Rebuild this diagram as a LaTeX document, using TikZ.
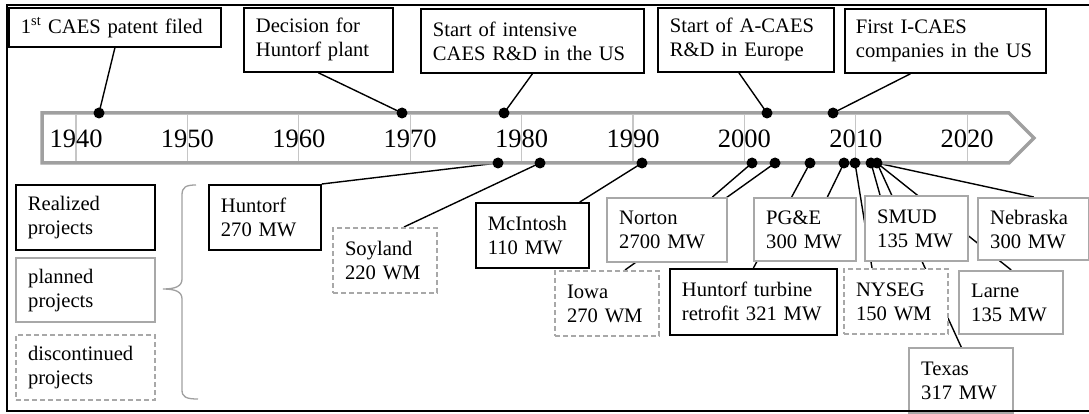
\documentclass[tikz,border=0pt]{standalone}
\usepackage{fontspec}
\setmainfont{Liberation Serif}
\usepackage{tikz}
\usetikzlibrary{calc,backgrounds}
\definecolor{BarGray}{HTML}{A0A0A0}
\definecolor{TickGray}{HTML}{C6C6C6}
\definecolor{BoxGray}{HTML}{A8A8A8}
\newcommand{\boxfont}{\fontsize{20.6}{24}\selectfont}
\newcommand{\yearfont}{\fontsize{26.5}{30}\selectfont}

\begin{document}
\begin{tikzpicture}[x=1pt, y=-1pt,
    % boxes hang from their top left corner
    boxbase/.style={anchor=north west, rectangle, fill=white, font=\boxfont, align=left, inner xsep=12pt, inner ysep=0pt, minimum height=64pt},
    eventbox/.style={boxbase, draw=black, line width=1.8pt},
    realbox/.style={boxbase, draw=black, line width=1.8pt},
    planbox/.style={boxbase, draw=BoxGray, line width=2.4pt},
    stopbox/.style={boxbase, draw=BoxGray, line width=2pt, dash pattern=on 5pt off 3pt},
    evdot/.style={circle, fill=black, inner sep=0pt, minimum size=11pt},
    link/.style={black, line width=1.4pt},
    yearlabel/.style={font=\yearfont, inner sep=0pt}
]
\useasboundingbox (0,0) rectangle (1089,414);

% time bar
\draw[BarGray, line width=3.5pt, fill=white] (42,113) -- (1009,113) -- (1034,138) -- (1009,163) -- (42,163) -- cycle;
\foreach \yr [count=\i from 0] in {1940,1950,...,2020} {
  \draw[TickGray, line width=1.2pt] (76+111.4*\i,115) -- (76+111.4*\i,161);
  \node[yearlabel] (y\yr) at (76+111.4*\i,139) {\yr};
}

% milestones above the bar
\node[eventbox, text width=188pt, minimum height=39pt] (patent) at (8,7) {1\textsuperscript{st} CAES patent filed};
\node[eventbox, text width=125pt] (decision) at (243,7) {Decision for\\Huntorf plant};
\node[eventbox, text width=199pt] (intensive) at (420,8) {Start of intensive\\CAES R\&D in the US};
\node[eventbox, text width=152pt] (acaes) at (657,7) {Start of A-CAES\\R\&D in Europe};
\node[eventbox, text width=179pt, inner xsep=11pt] (icaes) at (844,8) {First I-CAES\\companies in the US};

\node[evdot] (dPatent) at (99,113) {};
\node[evdot] (dDecision) at (402,113) {};
\node[evdot] (dIntensive) at (504,113) {};
\node[evdot] (dACAES) at (767,113) {};
\node[evdot] (dICAES) at (833,113) {};

% legend
\node[realbox, text width=115pt, minimum height=65pt] (realized) at (15,184) {Realized\\projects};
\node[planbox, text width=115pt] (planned) at (15,257) {planned\\projects};
\node[stopbox, text width=115pt, minimum height=65pt] (stopped) at (15,334) {discontinued\\projects};
\draw[BarGray, line width=1.3pt] (196,185) .. controls (186,185) and (182,187) .. (182,195) -- (182,279)
  .. controls (182,286) and (176,289) .. (163,289) .. controls (176,289) and (182,292) .. (182,299)
  -- (182,390) .. controls (182,397) and (186,399) .. (198,399);

% projects below the bar
\node[realbox, text width=88pt, minimum height=65pt] (huntorf) at (208,184) {Huntorf\\270 MW};
\node[stopbox, text width=80pt, minimum height=65pt] (soyland) at (332,227) {Soyland\\220 WM};
\node[realbox, text width=89pt, minimum height=65pt] (mcintosh) at (475,202) {McIntosh\\110 MW};
\node[planbox, text width=96pt] (norton) at (606,197) {Norton\\2700 MW};
\node[stopbox, text width=80pt, minimum height=65pt] (iowa) at (554,270) {Iowa\\270 WM};
\node[realbox, text width=143pt, minimum height=66pt] (retrofit) at (669,268) {Huntorf turbine\\retrofit 321 MW};
\node[planbox, text width=78pt, minimum height=63pt] (pge) at (753,197) {PG\&E\\300 MW};
\node[stopbox, text width=80pt, minimum height=65pt] (nyseg) at (843,268) {NYSEG\\150 WM};
\node[planbox, text width=79pt, minimum height=65pt] (smud) at (864,195) {SMUD\\135 MW};
\node[planbox, text width=87pt, minimum height=62pt] (nebraska) at (977,197) {Nebraska\\300 MW};
\node[planbox, text width=80pt, minimum height=63pt] (larne) at (958,270) {Larne\\135 MW};
\node[planbox, text width=80pt, minimum height=65pt] (texas) at (908,347) {Texas\\317 MW};

\node[evdot] (dHuntorf) at (498,163) {};
\node[evdot] (dSoyland) at (540,163) {};
\node[evdot] (dMcIntosh) at (642,163) {};
\node[evdot] (dNorton) at (752,163) {};
\node[evdot] (dIowa) at (775,163) {};
\node[evdot] (dRetrofit) at (810,163) {};
\node[evdot] (dPGE) at (844,163) {};
\node[evdot] (dNYSEG) at (855,163) {};
\node[evdot] (dSMUD) at (871,163) {};
\node[evdot] (dLate) at (877,163) {};

% connectors run behind the boxes
\begin{scope}[on background layer]
\fill[white] (0,0) rectangle (1089,414);
\draw[link] (patent.south) -- (dPatent.center);
\draw[link] (decision.south) -- (dDecision.center);
\draw[link] (intensive.south) -- (dIntensive.center);
\draw[link] ($(acaes.south)+(-7,0)$) -- (dACAES.center);
\draw[link] ($(icaes.south)+(-35,0)$) -- (dICAES.center);

\draw[link] (dHuntorf.center) -- (huntorf.north east);
\draw[link] (dSoyland.center) -- ($(soyland.north)+(19,0)$);
\draw[link] (dMcIntosh.center) -- ($(mcintosh.north east)+(-10,0)$);
\draw[link] (dNorton.center) -- ($(norton.north east)+(-16,0)$);
\draw[link] (dIowa.center) -- ($(iowa.north)+(18,0)$);
\draw[link] (dRetrofit.center) -- (retrofit.north);
\draw[link] (dPGE.center) -- ($(pge.north east)+(-30,0)$);
\draw[link] (dNYSEG.center) -- ($(nyseg.north west)+(29,0)$);
\draw[link] (dSMUD.center) -- ($(smud.north west)+(16,0)$);
\draw[link] (dLate.center) -- (texas.north);
\draw[link] (dLate.center) -- (larne.north);
\draw[link] (dLate.center) -- (nebraska.north);
\end{scope}

% outer frame, open to the right
\draw[line width=2.5pt] (7,5) rectangle (1100,411);
\end{tikzpicture}
\end{document}
